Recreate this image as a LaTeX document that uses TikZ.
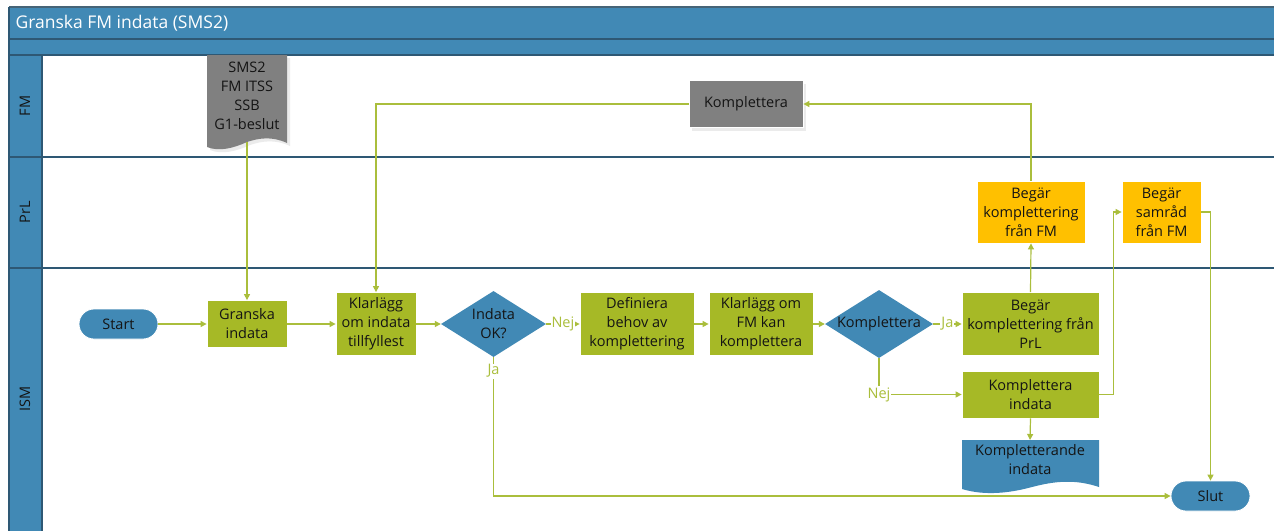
\documentclass[tikz,border=0pt]{standalone}
\usepackage{fontspec}
\setmainfont{Open Sans}
\usetikzlibrary{arrows.meta,shapes.geometric,shadows}

\definecolor{lane}{RGB}{65,137,181}
\definecolor{laneline}{RGB}{46,88,116}
\definecolor{olive}{RGB}{166,185,38}
\definecolor{conn}{RGB}{170,190,60}
\definecolor{amber}{RGB}{255,192,0}
\definecolor{docgray}{RGB}{128,128,128}
\definecolor{ink}{RGB}{20,20,20}

\newcommand{\bodyfont}{\fontsize{14.5}{19}\selectfont}

\tikzset{
  box/.style={rectangle, draw=white, line width=0.8pt, text=ink, align=center,
    inner sep=0pt, font=\bodyfont},
  proc/.style={box, fill=olive},
  prlbox/.style={box, fill=amber},
  fmbox/.style={box, fill=docgray, drop shadow={shadow xshift=3pt, shadow yshift=-3pt, fill=black!8, opacity=1}},
  term/.style={box, fill=lane, rounded corners=15pt, minimum width=79pt, minimum height=30pt},
  dec/.style={diamond, fill=lane, text=ink, align=center, inner sep=0pt, aspect=1.6, font=\bodyfont},
  flow/.style={draw=conn, line width=1.2pt, -{Triangle[length=6pt,width=6pt]}},
  lbl/.style={fill=white, text=conn, inner sep=1pt, font=\bodyfont},
  lanelabel/.style={rotate=90, text=ink, font=\fontsize{14.5}{16}\selectfont},
  sep/.style={draw=laneline, line width=1.2pt}
}

\begin{document}
\begin{tikzpicture}[x=1pt, y=-1pt]
\useasboundingbox (0,0) rectangle (1274,531);
\fill[white] (0,0) rectangle (1274,531);

% pool frame
\fill[lane] (9,7) rectangle (1274,55);
\fill[lane] (9,55) rectangle (42,531);
\draw[draw=laneline!70!gray, line width=1.5pt] (9,7) -- (1274,7);
\draw[sep] (9,39) -- (1274,39);
\draw[sep] (9,55) -- (1274,55);
\draw[sep] (9,7) -- (9,531);
\draw[sep] (42,55) -- (42,531);
\draw[sep] (9,157) -- (1274,157);
\draw[sep] (9,268) -- (1274,268);
\node[anchor=west, text=white, font=\fontsize{17.5}{20}\selectfont] (title) at (12,23) {Granska FM indata (SMS2)};

% lane names
\node[lanelabel] (lfm) at (25,106) {FM};
\node[lanelabel] (lprl) at (25,212) {PrL};
\node[lanelabel] (lism) at (25,399) {ISM};

% input documents
\fill[black!8] (210,58) -- (290,58) -- (290,146)
  .. controls (275,139) and (262,141) .. (250,145)
  .. controls (237,151) and (222,155) .. (210,150) -- cycle;
\fill[docgray] (207,55) -- (287,55) -- (287,143)
  .. controls (272,136) and (259,138) .. (247,142)
  .. controls (234,148) and (219,152) .. (207,147) -- cycle;
\node[text=ink, align=center, font=\bodyfont] (docin) at (247,96) {SMS2\\FM ITSS\\SSB\\G1-beslut};
\coordinate (docinb) at (247,142);

\fill[lane] (962,440) -- (1099,440) -- (1099,487)
  .. controls (1075,479) and (1055,481) .. (1032,487)
  .. controls (1010,493) and (985,496) .. (962,489) -- cycle;
\node[text=ink, align=center, font=\bodyfont] (kdoc) at (1030,460) {Kompletterande\\indata};
\coordinate (kdoctop) at (1030,440);

% FM lane
\node[fmbox, minimum width=114pt, minimum height=47pt] (kfm) at (746,104) {Komplettera};

% PrL lane
\node[prlbox, minimum width=108pt, minimum height=62pt] (bfm) at (1031,212) {Begär\\komplettering\\från FM};
\node[prlbox, minimum width=79pt, minimum height=62pt] (sam) at (1161.5,212) {Begär\\samråd\\från FM};

% ISM lane
\node[term] (start) at (118.5,324) {Start};
\node[proc, minimum width=80pt, minimum height=47pt] (gi) at (247,324) {Granska\\indata};
\node[proc, minimum width=80pt, minimum height=63pt] (kl) at (376,324) {Klarlägg\\om indata\\tillfyllest};
\node[dec, minimum width=105pt, minimum height=66pt] (ok) at (493.5,324) {Indata\\OK?};
\node[proc, minimum width=114pt, minimum height=63pt] (def) at (637,324) {Definiera\\behov av\\komplettering};
\node[proc, minimum width=104pt, minimum height=63pt] (kfmk) at (761,324) {Klarlägg om\\FM kan\\komplettera};
\node[dec, minimum width=108pt, minimum height=68pt] (kd) at (879,324) {Komplettera};
\node[proc, minimum width=137pt, minimum height=63pt] (bprl) at (1030.5,324) {Begär\\komplettering från\\PrL};
\node[proc, minimum width=137pt, minimum height=47pt] (ki) at (1030.5,394.5) {Komplettera\\indata};
\node[term] (slut) at (1210.5,496) {Slut};

% connectors
\draw[flow] (start) -- (gi);
\draw[flow] (docinb) -- (gi.north);
\draw[flow] (gi) -- (kl);
\draw[flow] (kl) -- (ok);
\draw[flow] (kfm.west) -| (kl.north);
\draw[flow] (ok) -- node[lbl]{Nej} (def);
\draw[flow] (ok.south) -- node[lbl, pos=0.1]{Ja} (ok.south |- slut.west) -- (slut.west);
\draw[flow] (def) -- (kfmk);
\draw[flow] (kfmk) -- (kd);
\draw[flow] (kd) -- node[lbl]{Ja} (bprl);
\draw[flow] (kd.south) |- node[lbl, pos=0.5]{Nej} (ki.west);
\draw[flow] (bprl.north) -- (bfm.south);
\draw[flow] (bfm.north) |- (kfm.east);
\draw[flow] (ki.east) -- ++(14,0) |- (sam.west);
\draw[flow] (sam.east) -| (slut.north);
\draw[flow] (ki.south) -- (kdoctop);
\end{tikzpicture}
\end{document}
